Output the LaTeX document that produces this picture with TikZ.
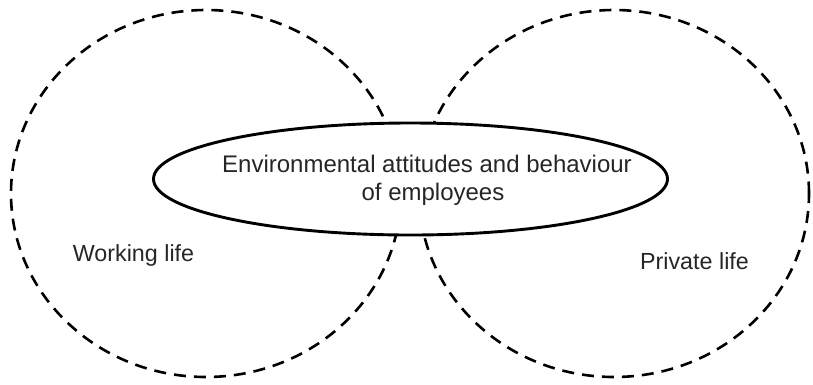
\documentclass[tikz,border=0pt]{standalone}
\usepackage{fontspec}
\setmainfont{Liberation Sans}
\usetikzlibrary{shapes.geometric}
\begin{document}
\begin{tikzpicture}[x=1pt,y=-1pt,
  lifecircle/.style={ellipse, draw, line width=2.6pt, dash pattern=on 12pt off 8pt, minimum width=390pt, minimum height=367pt, inner sep=0pt},
  core/.style={ellipse, draw, line width=2.9pt, fill=white, minimum width=514pt, minimum height=112pt, inner sep=0pt},
  coretext/.style={align=center, inner sep=0pt, font=\fontsize{24pt}{28pt}\selectfont, text=black!85},
  lbl/.style={font=\fontsize{23.3pt}{26pt}\selectfont, text=black!85, inner sep=0pt, anchor=base}]
\useasboundingbox (0,0) rectangle (813,384);
\node[lifecircle] (work) at (206,193.5) {};
\node[lifecircle] (priv) at (614,193.5) {};
\node[core] (env) at (410.5,179) {};
\node[coretext] (envtext) at (427,180.5) {Environmental attitudes and behaviour\\\hspace*{12pt}of employees};
\node[lbl] (wl) at (133.5,261) {Working life};
\node[lbl] (pl) at (694.5,269) {Private life};
\end{tikzpicture}
\end{document}
